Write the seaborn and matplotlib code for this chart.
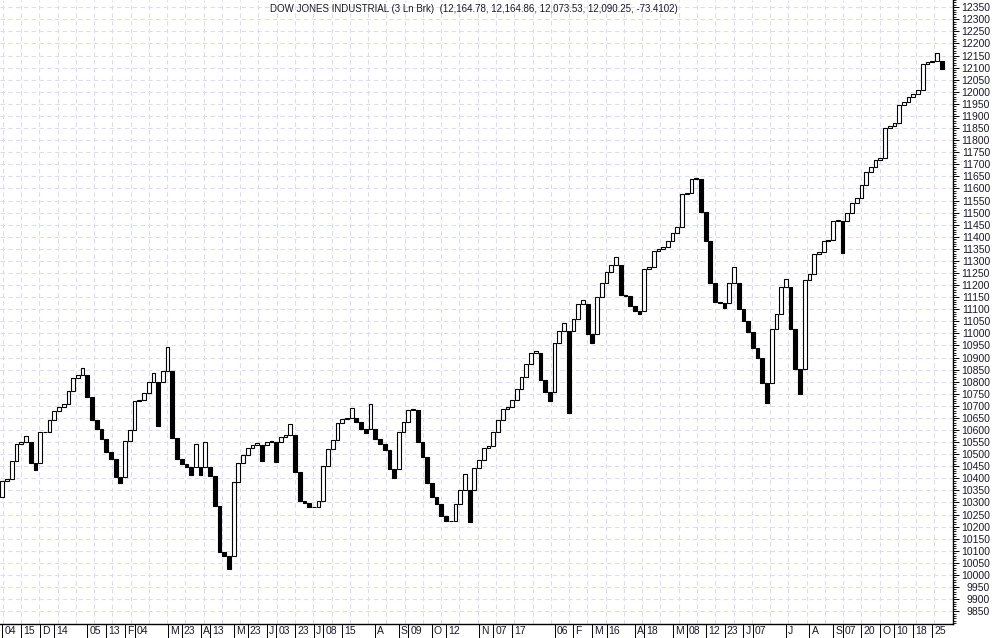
import numpy as np
import pandas as pd
import matplotlib
matplotlib.use("Agg")
import matplotlib.pyplot as plt
import matplotlib.transforms as mtransforms
import seaborn as sns

# ---------------- data ----------------
chart_title = "DOW JONES INDUSTRIAL (3 Ln Brk)  (12,164.78, 12,164.86, 12,073.53, 12,090.25, -73.4102)"

first_open = 10321

# closing value of each three-line-break line, left to right
line_close = [
    10389, 10396, 10472, 10541, 10552, 10574, 10465, 10434, 10590, 10593,
    10641, 10679, 10694, 10706, 10761, 10817, 10828, 10855, 10735, 10640,
    10604, 10563, 10510, 10479, 10404, 10379, 10554, 10600, 10720, 10724,
    10754, 10797, 10835, 10618, 10844, 10942, 10568, 10479, 10459, 10448,
    10412, 10541, 10412, 10549, 10410, 10287, 10096, 10078, 10023, 10386,
    10465, 10495, 10524, 10536, 10545, 10473, 10552, 10554, 10469, 10570,
    10579, 10623, 10427, 10307, 10296, 10283, 10280, 10306, 10451, 10521,
    10559, 10627, 10644, 10648, 10690, 10632, 10604, 10586, 10706, 10563,
    10541, 10517, 10440, 10403, 10590, 10632, 10683, 10686, 10549, 10490,
    10382, 10324, 10292, 10245, 10225, 10223, 10294, 10352, 10418, 10221,
    10441, 10476, 10524, 10535, 10590, 10641, 10687, 10697, 10724, 10768,
    10818, 10872, 10917, 10928, 10807, 10759, 10721, 10962, 11011, 11042,
    10672, 11058, 11120, 11138, 10997, 10961, 11152, 11207, 11253, 11283,
    11317, 11159, 11155, 11115, 11094, 11079, 11266, 11276, 11341, 11348,
    11356, 11382, 11417, 11439, 11577, 11582, 11639, 11642, 11504, 11384,
    11210, 11131, 11127, 11103, 11210, 11276, 11099, 11051, 11007, 10938,
    10897, 10796, 10713, 11017, 11080, 11190, 11224, 11018, 10851, 10748,
    11221, 11244, 11327, 11337, 11382, 11385, 11465, 11468, 11334, 11497,
    11538, 11559, 11613, 11666, 11687, 11717, 11724, 11849, 11860, 11869,
    11945, 11956, 11977, 11989, 12007, 12115, 12122, 12129, 12159, 12093,
]

date_labels = ["04", "15", "D", "14", "05", "13", "F", "04", "M", "23", "A", "13",
               "M", "23", "J", "03", "23", "J", "08", "15", "A", "S", "09", "O",
               "12", "N", "07", "17", "06", "F", "M", "16", "A", "18", "M", "08",
               "12", "23", "J", "07", "J", "A", "S", "07", "20", "O", "10", "18", "25"]
date_label_line = [0, 4, 8, 11, 18, 22, 26, 28, 35, 38, 42, 44,
                   49, 52, 56, 58, 62, 66, 68, 72, 79, 84, 86, 91,
                   94, 101, 104, 108, 117, 121, 125, 128, 134, 136, 142, 145,
                   149, 153, 157, 159, 166, 171, 176, 178, 182, 186, 189, 193, 197]

y_label_values = list(range(9850, 12351, 50))

# ---------------- line break geometry (derived from the data) ----------------
opens = []
for i, c in enumerate(line_close):
    if i == 0:
        o = first_open
    else:
        top = max(opens[i - 1], line_close[i - 1])
        bot = min(opens[i - 1], line_close[i - 1])
        o = top if c > top else bot
    opens.append(o)

df = pd.DataFrame({
    "line": np.arange(len(line_close)),
    "open": opens,
    "close": line_close,
})
df["low"] = df[["open", "close"]].min(axis=1)
df["span"] = (df["close"] - df["open"]).abs()
df["rising"] = df["close"] > df["open"]

# ---------------- figure ----------------
sns.set_style("white")
plt.rcParams["font.family"] = ["Liberation Sans", "DejaVu Sans"]

W, H = 994, 638
fig = plt.figure(figsize=(W / 100, H / 100), dpi=100)
ax_right_px = 952.5
ax_bottom_px = 14
ax = fig.add_axes([0, ax_bottom_px / H, ax_right_px / W, 1 - ax_bottom_px / H])

px_per_line = 4.72
x_left = -0.5
x_right = ax_right_px / px_per_line - 0.5
y_low, y_high = 9797, 12380

grid_color = "#dcdcf2"
# vertical dashed gridlines every ~18.27 px
vgrid = np.arange(2.7, ax_right_px, 18.27) / px_per_line - 0.5
ax.set_xticks(vgrid, minor=True)
ax.grid(True, which="minor", axis="x", color=grid_color, linestyle=(0, (4, 3)), linewidth=0.8)
ax.grid(True, which="major", axis="y", color=grid_color, linestyle=(0, (4, 3)), linewidth=0.8)
ax.grid(False, which="major", axis="x")
ax.set_axisbelow(True)

up = df[df["rising"]].sort_values("line")
down = df[~df["rising"]].sort_values("line")

sns.barplot(data=up, x="line", y="span", bottom=up["low"].to_numpy(), native_scale=True,
            width=0.8, color="white", saturation=1, edgecolor="black", linewidth=0.8,
            errorbar=None, ax=ax)
sns.barplot(data=down, x="line", y="span", bottom=down["low"].to_numpy(), native_scale=True,
            width=0.8, color="black", saturation=1, edgecolor="black", linewidth=0.8,
            errorbar=None, ax=ax)

ax.set_xlim(x_left, x_right)
ax.set_ylim(y_low, y_high)
ax.set_xlabel("")
ax.set_ylabel("")

# spines
for s in ["top", "left"]:
    ax.spines[s].set_visible(False)
for s in ["right", "bottom"]:
    ax.spines[s].set_visible(True)
    ax.spines[s].set_color("black")
    ax.spines[s].set_linewidth(1.0)

# right price axis
ax.yaxis.tick_right()
ax.set_yticks(y_label_values)
ax.set_yticks(np.arange(9800, 12381, 10), minor=True)
ax.tick_params(axis="y", which="major", direction="out", length=4.5, width=0.7,
               color="black", pad=22.5, labelsize=7.5, labelcolor="#1a1a2a", right=True, left=False)
ax.tick_params(axis="y", which="minor", direction="out", length=2.3, width=0.6,
               color="black", right=True, left=False)
for lab in ax.get_yticklabels():
    lab.set_horizontalalignment("right")

# bottom date axis
ax.set_xticks(date_label_line)
ax.set_xticklabels([])
ax.tick_params(axis="x", which="major", direction="out", length=10, width=0.7,
               color="black", bottom=True, top=False)
ax.tick_params(axis="x", which="minor", length=0, bottom=False, top=False)
trans = mtransforms.offset_copy(ax.get_xaxis_transform(), fig=fig, x=1.5, y=-1.5, units="points")
for pos, lab in zip(date_label_line, date_labels):
    ax.text(pos, 0, lab, transform=trans, ha="left", va="top", fontsize=7.5,
            color="#1a1a2a", clip_on=False)

fig.text(270 / W, 1 - 9 / H, chart_title, ha="left", va="center", fontsize=7,
         color="#1a1a2a")

fig.savefig("out.png", dpi=100)
